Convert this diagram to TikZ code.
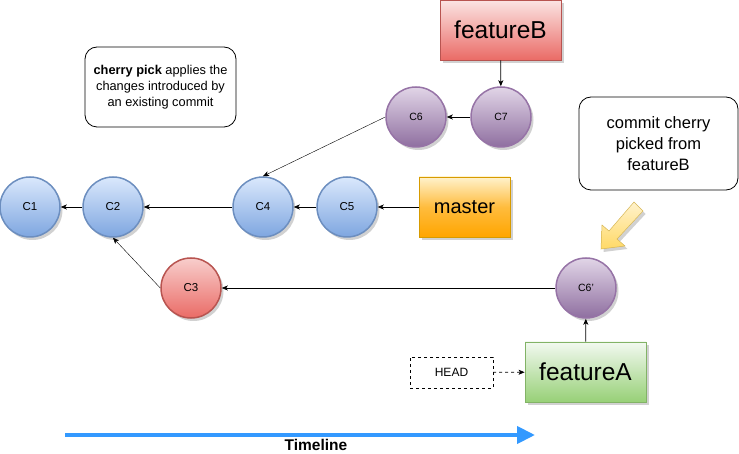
\documentclass[tikz,border=0pt]{standalone}
\usepackage{fontspec}
\setmainfont{Liberation Sans}
\usetikzlibrary{arrows.meta,shadows}

\definecolor{blueTop}{HTML}{DAE8FC}
\definecolor{blueBot}{HTML}{7EA6E0}
\definecolor{blueLine}{HTML}{6C8EBF}
\definecolor{redTop}{HTML}{F8CECC}
\definecolor{redBot}{HTML}{EA6B66}
\definecolor{redLine}{HTML}{B85450}
\definecolor{purpleTop}{HTML}{E1D5E7}
\definecolor{purpleBot}{HTML}{8F6FA0}
\definecolor{purpleLine}{HTML}{9673A6}
\definecolor{orangeTop}{HTML}{FFF2CC}
\definecolor{orangeBot}{HTML}{FFA500}
\definecolor{orangeLine}{HTML}{D79B00}
\definecolor{greenTop}{HTML}{F2F9F0}
\definecolor{greenBot}{HTML}{97D077}
\definecolor{greenLine}{HTML}{82B366}
\definecolor{yellowTop}{HTML}{FFF2CC}
\definecolor{yellowBot}{HTML}{FFD966}
\definecolor{yellowLine}{HTML}{D6B656}
\definecolor{timeBlue}{HTML}{3399FF}

\begin{document}
\begin{tikzpicture}[x=1pt, y=-1pt,
    shadowed/.style={drop shadow={shadow xshift=2.5pt, shadow yshift=-3pt, fill=black, opacity=0.18}},
    commit/.style={circle, minimum size=60pt, inner sep=0pt, line width=1.5pt, shadowed,
      font=\fontsize{11.5}{13}\selectfont},
    bluecommit/.style={commit, draw=blueLine, top color=blueTop, bottom color=blueBot},
    redcommit/.style={commit, draw=redLine, top color=redTop, bottom color=redBot},
    purplecommit/.style={commit, draw=purpleLine, top color=purpleTop, bottom color=purpleBot,
      font=\fontsize{10.5}{12}\selectfont},
    branch/.style={rectangle, minimum height=60pt, inner sep=0pt, line width=0.8pt, shadowed},
    note/.style={rectangle, rounded corners=12pt, draw=black, line width=0.8pt, fill=white, align=center},
    link/.style={-{Stealth[length=6pt, width=5pt, inset=1.5pt]}, line width=0.8pt},
    thinlink/.style={-{Stealth[length=6pt, width=5pt, inset=1.5pt]}, line width=0.4pt}]
  \useasboundingbox (0, 0) rectangle (739, 454);

  % commits
  \node[bluecommit] (C1) at (30, 207) {C1};
  \node[bluecommit] (C2) at (113, 207) {C2};
  \node[bluecommit] (C4) at (263, 207) {C4};
  \node[bluecommit] (C5) at (347, 207) {C5};
  \node[redcommit] (C3) at (191, 288) {C3};
  \node[purplecommit] (C6) at (416, 117) {C6};
  \node[purplecommit] (C7) at (501, 117) {C7};
  \node[purplecommit] (C6p) at (586, 288) {C6'};

  % branches
  \node[branch, minimum width=121pt, draw=redLine, top color=redTop!55!white, bottom color=redBot,
    font=\fontsize{24.5}{28}\selectfont] (featureB) at (500.5, 30) {featureB};
  \node[branch, minimum width=91pt, draw=orangeLine, top color=orangeTop, bottom color=orangeBot,
    middle color=orangeBot!70!orangeTop, font=\fontsize{20}{24}\selectfont] (master) at (464.5, 207) {master};
  \node[branch, minimum width=121pt, draw=greenLine, top color=greenTop, bottom color=greenBot,
    font=\fontsize{24.5}{28}\selectfont] (featureA) at (585.5, 372) {featureA};
  \node[rectangle, draw, dashed, minimum width=83pt, minimum height=31pt, inner sep=0pt,
    font=\fontsize{12}{14}\selectfont] (HEAD) at (451.5, 372.5) {HEAD};

  % notes
  \node[note, minimum width=151pt, minimum height=80pt, font=\fontsize{12.8}{16}\selectfont]
    (pickNote) at (160.5, 87) {\textbf{cherry pick} applies the\\changes introduced by\\an existing commit};
  \node[note, minimum width=159pt, minimum height=93pt, font=\fontsize{16.5}{21}\selectfont]
    (pickedNote) at (658.5, 143.5) {commit cherry\\picked from\\featureB};

  % pointer arrow
  \draw[yellowLine, line width=0.5pt, top color=yellowTop, bottom color=yellowBot, shadowed]
    (634, 202) -- (643, 211) -- (617, 239) -- (625, 246) -- (601, 249)
    -- (602, 225) -- (609, 231) -- cycle;

  % history
  \draw[link] (C2) -- (C1);
  \draw[link] (C4) -- (C2);
  \draw[link] (C5) -- (C4);
  \draw[link] (C7) -- (C6);
  \draw[thinlink] (C6.west) -- (C4.north);
  \draw[thinlink] (C3.west) -- (C2.south);
  \draw[link] (C6p) -- (C3);
  \draw[link] (featureB) -- (C7);
  \draw[link] (master) -- (C5);
  \draw[link] (featureA) -- (C6p);
  \draw[link, dashed] (HEAD) -- (featureA);

  % timeline
  \coordinate (tlStart) at (65, 435);
  \coordinate (tlEnd) at (535, 435);
  \draw[timeBlue, line width=4pt, -{Triangle[length=18pt, width=17pt]}] (tlStart) -- (tlEnd);
  \node[font=\bfseries\fontsize{15.5}{17}\selectfont, inner sep=0pt] (timeline) at (316, 445) {Timeline};
\end{tikzpicture}
\end{document}
